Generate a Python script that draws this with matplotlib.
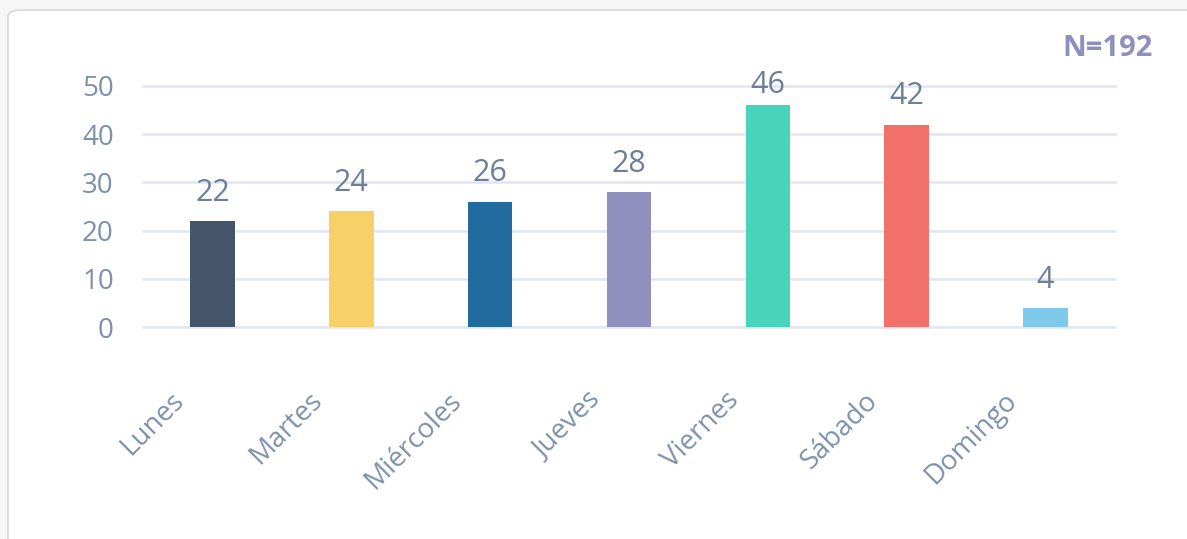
import matplotlib
matplotlib.use('Agg')
import matplotlib.pyplot as plt
import matplotlib.transforms as mtrans
from matplotlib.patches import FancyBboxPatch
import numpy as np

plt.rcParams['font.family'] = ['Open Sans', 'DejaVu Sans']

# data
dias = ['Lunes', 'Martes', 'Miércoles', 'Jueves', 'Viernes', 'Sábado', 'Domingo']
valores = [22, 24, 26, 28, 46, 42, 4]
colores = ['#44546a', '#f7d068', '#226b9f', '#8f90bd', '#48d4bb', '#f1706a', '#7fc9ea']
total = 192

W, H = 1187, 539
fig = plt.figure(figsize=(W / 100, H / 100), dpi=100, facecolor='#f6f6f6')

# card background
card = FancyBboxPatch((8 / W, -20 / H), (W + 20) / W, (H - 10 + 20) / H,
                      boxstyle='round,pad=0,rounding_size=0.012',
                      transform=fig.transFigure, facecolor='white',
                      edgecolor='#d6d8dc', linewidth=1.2, zorder=-10)
fig.patches.append(card)

ax = fig.add_axes([143 / W, 212 / H, 972 / W, 241 / H])
ax.set_facecolor('none')
ax.set_zorder(5)

x = np.arange(len(dias))
ax.bar(x, valores, width=0.32, color=colores, zorder=3)
# labels pushed down a bit when too close to the top (like plotly does)
for xi, v in zip(x, valores):
    ax.annotate(str(v), (xi, min(v, 44.4)), xytext=(0, 9.5), textcoords='offset points',
                ha='center', va='bottom', fontsize=22, color='#6b7f99',
                zorder=4, annotation_clip=False)

ax.set_xlim(-0.5, len(dias) - 0.5)
ax.set_ylim(0, 50)
ax.set_yticks([0, 10, 20, 30, 40, 50])
ax.yaxis.grid(True, color='#e3e5ee', linewidth=1.8, zorder=0)
for gl in ax.get_ygridlines():
    gl.set_clip_on(False)
ax.set_axisbelow(True)
for s in ax.spines.values():
    s.set_visible(False)
ax.tick_params(axis='y', length=0, pad=21, labelsize=20, labelcolor='#7d91aa')
ax.tick_params(axis='x', length=0, pad=50, labelsize=20, labelcolor='#7d91aa')
ax.set_xticks(x)
ax.set_xticklabels(dias, rotation=45, ha='right', va='center', rotation_mode='anchor')
off = mtrans.ScaledTranslation(-33 / 100, 0, fig.dpi_scale_trans)
for lab in ax.get_xticklabels():
    lab.set_transform(lab.get_transform() + off)

fig.text(1153 / W, 1 - 48 / H, f'N={total}', ha='right', va='center',
         fontsize=21, fontweight='bold', color='#8e8fbf')

fig.savefig('out.png', dpi=100, facecolor=fig.get_facecolor())
